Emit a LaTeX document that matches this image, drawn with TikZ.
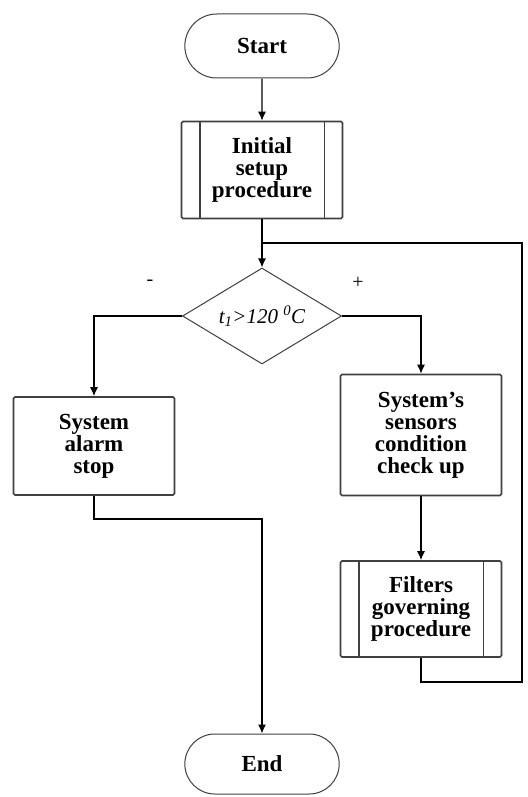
\documentclass[tikz,border=0pt]{standalone}
\usepackage{fontspec}
\setmainfont{Liberation Serif}
\usetikzlibrary{shapes.geometric,shapes.misc,arrows.meta}
\definecolor{edge}{HTML}{404040}
\tikzset{
  term/.style={rounded rectangle,draw=edge,line width=1pt,minimum width=161pt,minimum height=64pt,font=\fontsize{23}{22}\selectfont\bfseries},
  proc/.style={rectangle,rounded corners=1.5pt,draw=edge,line width=1.6pt,align=center,minimum width=161pt,font=\fontsize{23}{22}\selectfont\bfseries},
  decide/.style={diamond,draw=edge,line width=1pt,minimum width=159pt,minimum height=96pt,aspect=1.66,inner sep=0pt,font=\fontsize{21}{21}\selectfont\itshape},
  flow/.style={line width=1.3pt,-{Latex[length=9pt,width=8pt]}},
  wire/.style={line width=1.3pt},
  sign/.style={font=\fontsize{20}{20}\selectfont}
}
\begin{document}
\begin{tikzpicture}[x=1pt,y=-1pt]
\fill[white] (0,0) rectangle (527,797);
\useasboundingbox (0,0) rectangle (527,797);
% blocks
\node[term] (start) at (262,46) {Start};
\node[proc,minimum height=97pt] (init) at (262,170) {Initial\\setup\\procedure};
\node[decide] (temp) at (262,316) {t\textsubscript{1}>120 \textsuperscript{0}C};
\node[proc,minimum height=98pt] (alarm) at (94,446) {System\\alarm\\stop};
\node[proc,minimum height=121pt] (check) at (421,435) {System’s\\sensors\\condition\\check up};
\node[proc,minimum height=96pt] (filt) at (421,609) {Filters\\governing\\procedure};
\node[term,minimum height=60pt] (end) at (262,764) {End};
\node[sign] (minus) at (150,283) {-};
\node[sign] (plus) at (358,283) {+};
% side bars of the procedure blocks
\foreach \n in {init,filt}
  \draw[edge,line width=1.6pt] ([xshift=19pt]\n.north west) -- ([xshift=19pt]\n.south west)
    ([xshift=-19pt]\n.north east) -- ([xshift=-19pt]\n.south east);
% helper points
\coordinate (join) at (262,243);
\coordinate (loopr) at (522,682);
\coordinate (merge) at (262,519);
% connectors
\draw[flow] (start) -- (init);
\draw[flow] (init) -- (temp);
\draw[flow] (temp.west) -| (alarm.north);
\draw[flow] (temp.east) -| (check.north);
\draw[flow] (check) -- (filt);
\draw[wire] (filt.south) |- (loopr) |- (join);
\draw[flow] (alarm.south) |- (merge) -- (end.north);
\end{tikzpicture}
\end{document}
